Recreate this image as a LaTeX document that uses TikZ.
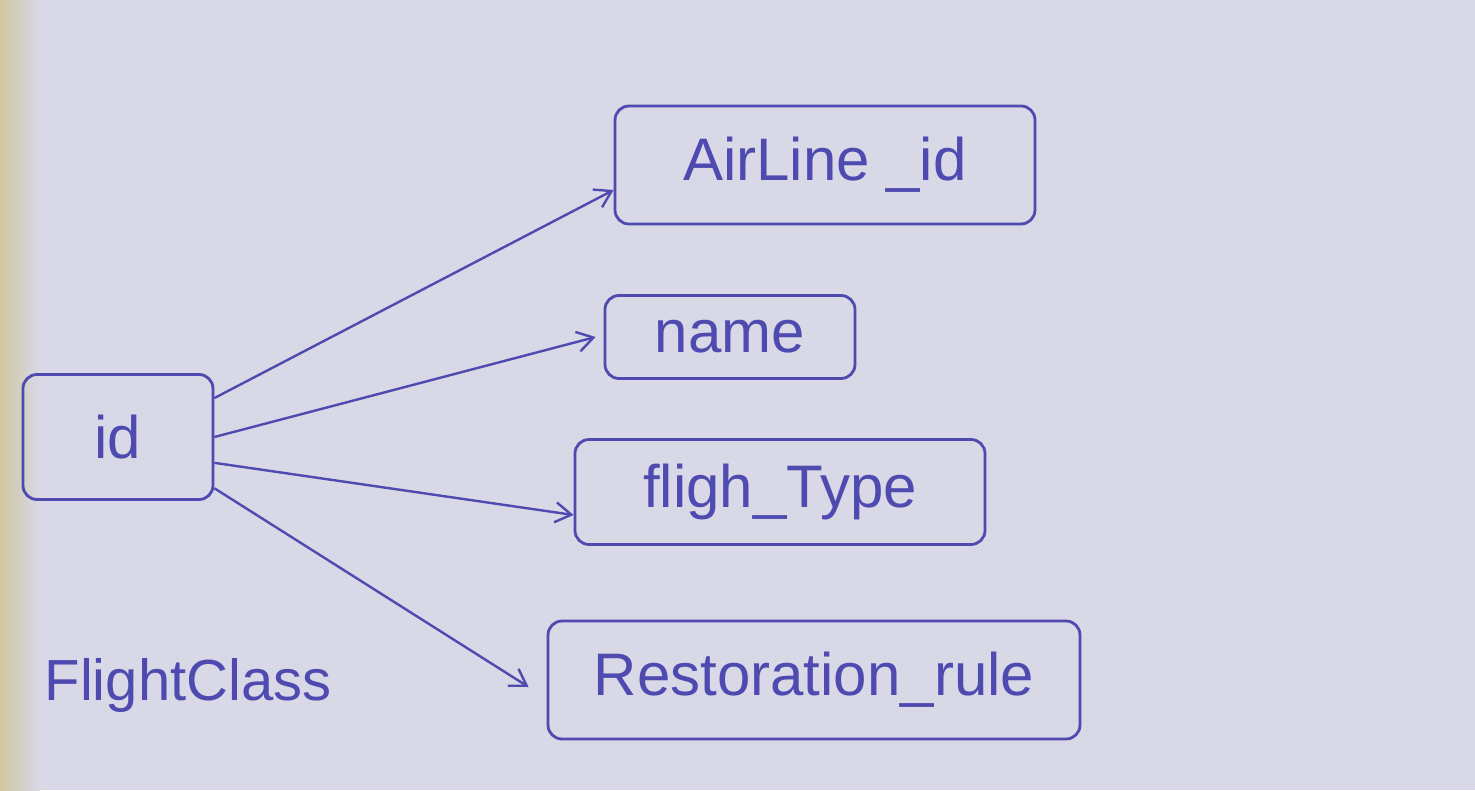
\documentclass[tikz,border=0pt]{standalone}
\usepackage{fontspec}
\setmainfont{Liberation Sans}
\usetikzlibrary{arrows.meta,calc}
\definecolor{paper}{HTML}{D8D8E7}
\definecolor{pen}{HTML}{4E4AB0}
\definecolor{strip}{HTML}{CFC7A0}
\tikzset{
  field/.style={draw=pen, line width=2.8pt, rounded corners=14pt, text=pen,
    font=\fontsize{60}{70}\selectfont, inner sep=0pt},
  arr/.style={draw=pen, line width=2.4pt, -{Straight Barb[length=16pt,width=20pt,line width=2.4pt]}},
  lbl/.style={text=pen, font=\fontsize{58}{68}\selectfont, inner sep=0pt}
}
\begin{document}
\begin{tikzpicture}[x=1pt,y=-1pt]
\fill[paper] (0,0) rectangle (1475,790);
\shade[left color=strip, right color=paper] (0,0) rectangle (40,790);
\useasboundingbox (0,0) rectangle (1475,790);

\node[field, minimum width=190pt, minimum height=125pt] (id) at (118,437) {id};
\node[field, minimum width=420pt, minimum height=118pt] (airline) at (825,165) {AirLine \_id};
\node[field, minimum width=250pt, minimum height=83pt] (name) at (730,337) {name};
\node[field, minimum width=410pt, minimum height=105pt] (fligh) at (780,492) {fligh\_Type};
\node[field, minimum width=532pt, minimum height=118pt] (rest) at (814,680) {Restoration\_rule};
\node[lbl] (cls) at (188,685) {FlightClass};

\draw[arr] (id.22) -- ([yshift=-25pt]airline.west);
\draw[arr] (id.0) -- ([xshift=-8pt]name.west);
\draw[arr] (id.-15) -- ([yshift=-23pt]fligh.west);
\draw[arr] (id.-28) -- ([xshift=-18pt,yshift=-7pt]rest.west);
\end{tikzpicture}
\end{document}
